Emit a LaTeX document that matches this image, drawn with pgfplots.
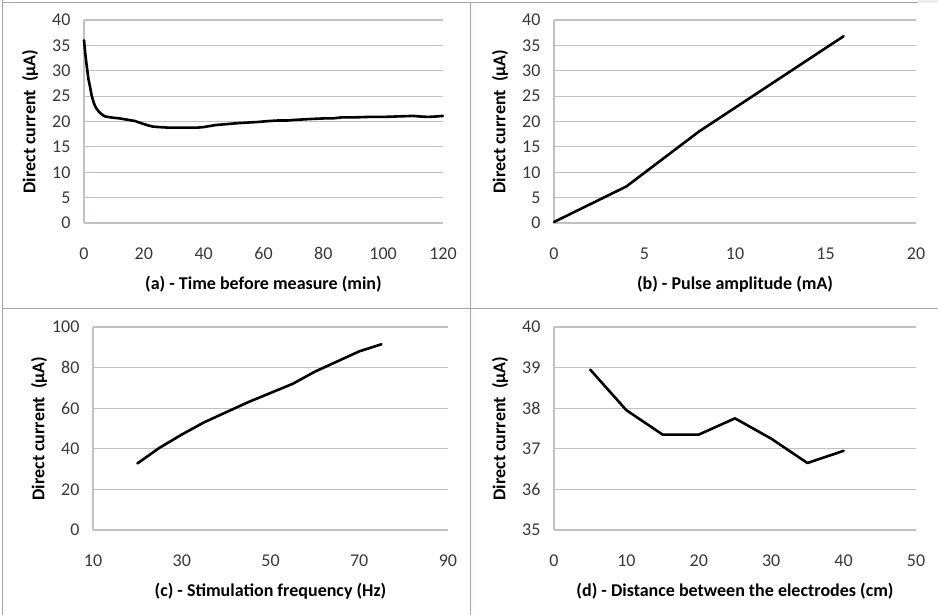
\documentclass[border=0pt]{standalone}
\usepackage{fontspec}
\setmainfont{Carlito}
\usepackage{pgfplots}
\pgfplotsset{compat=1.18}
\definecolor{gridc}{HTML}{C4C0C0}
\definecolor{framec}{HTML}{A8A4A4}
\definecolor{tickc}{HTML}{383838}
\pgfplotsset{panel/.style={
  scale only axis, height=203pt,
  axis x line=bottom, axis y line=left,
  axis line style={-, gridc, line width=1.2pt},
  ymajorgrids, grid style={gridc, line width=1.2pt},
  major tick length=0pt,
  tick label style={font=\fontsize{18}{21}\selectfont, text=tickc},
  /pgf/number format/assume math mode=true,
  xticklabel style={yshift=-21pt},
  yticklabel style={xshift=-10pt},
  label style={font=\bfseries\fontsize{18}{21}\selectfont},
  xlabel style={at={(axis description cs:0.5,0)}, anchor=center, yshift=-61pt},
  ylabel style={at={(axis description cs:0,0.5)}, anchor=center, yshift=54pt},
  clip=false,
},
curve/.style={black, line width=2.6pt, no marks, line join=round, line cap=round}}
\begin{document}
\begin{tikzpicture}
\useasboundingbox (0,0) rectangle (938pt,615pt);
% panel frame
\fill[black!7] (918pt,612pt) rectangle (938pt,615pt);
\draw[framec, line width=1pt] (2.7pt,615pt) -- (2.7pt,612pt) -- (918pt,612pt);
\draw[framec, line width=1pt] (2.7pt,612pt) -- (2.7pt,0pt);
\draw[framec, line width=1pt] (2.7pt,306pt) -- (938pt,306pt);
\draw[framec, line width=1pt] (470.7pt,612pt) -- (470.7pt,0pt);

% (a)
\begin{axis}[panel, at={(84pt,392pt)}, anchor=south west, width=359pt,
  xmin=0, xmax=120, xtick={0,20,...,120},
  ymin=0, ymax=40, ytick={0,5,...,40},
  xlabel={(a) - Time before measure (min)},
  ylabel={Direct current \ (µA)}]
\addplot[curve] table {
0 36.0
0.4 33.5
0.9 31.0
1.5 28.3
2 26.9
2.5 25.3
3 24.2
3.5 23.3
4 22.7
5 21.9
6 21.4
7 21.0
9 20.8
12 20.6
15 20.3
17 20.1
19 19.7
21 19.3
23 19.0
25 18.9
28 18.8
31 18.8
34 18.8
38 18.8
40 18.9
42 19.1
44 19.3
46 19.4
48 19.5
50 19.6
52 19.7
55 19.8
58 19.9
60 20.0
62 20.1
65 20.2
68 20.2
70 20.3
73 20.4
76 20.5
80 20.6
83 20.6
86 20.8
90 20.8
95 20.9
100 20.9
105 21.0
110 21.1
112 21.0
115 20.9
118 21.0
120 21.1
};
\end{axis}

% (b)
\begin{axis}[panel, at={(554pt,392pt)}, anchor=south west, width=362pt,
  xmin=0, xmax=20, xtick={0,5,...,20},
  ymin=0, ymax=40, ytick={0,5,...,40},
  xlabel={(b) - Pulse amplitude (mA)},
  ylabel={Direct current \ (µA)}]
\addplot[curve] table {
0 0.2
4 7.2
8 18.0
12 27.4
16 36.8
};
\end{axis}

% (c)
\begin{axis}[panel, at={(93pt,85pt)}, anchor=south west, width=355pt,
  xmin=10, xmax=90, xtick={10,30,...,90},
  ymin=0, ymax=100, ytick={0,20,...,100},
  xlabel={(c) - Stimulation frequency (Hz)},
  ylabel={Direct current \ (µA)}]
\addplot[curve] table {
20 32.8
25 40.5
30 47.0
35 53.0
40 58.0
45 63.0
50 67.5
55 72.0
60 78.0
65 83.0
70 88.0
75 91.5
};
\end{axis}

% (d)
\begin{axis}[panel, at={(554pt,85pt)}, anchor=south west, width=362pt,
  xmin=0, xmax=50, xtick={0,10,...,50},
  ymin=35, ymax=40, ytick={35,...,40},
  xlabel={(d) - Distance between the electrodes (cm)},
  ylabel={Direct current \ (µA)}]
\addplot[curve] table {
5 38.95
10 37.95
15 37.35
20 37.35
25 37.75
30 37.25
35 36.65
40 36.95
};
\end{axis}
\end{tikzpicture}
\end{document}
